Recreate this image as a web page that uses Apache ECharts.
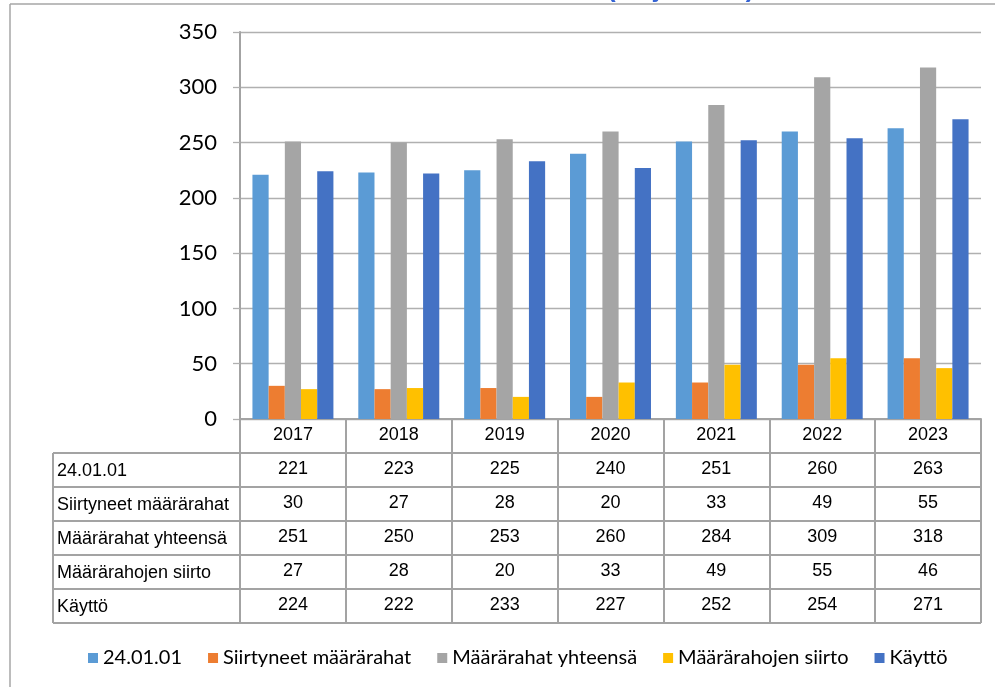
<!DOCTYPE html>
<html>
<head>
<meta charset="utf-8">
<script src="https://cdn.jsdelivr.net/npm/echarts/dist/echarts.min.js"></script>
<style>
  body{margin:0;background:#fff;}
  #chart{width:995px;height:687px;}
</style>
</head>
<body>
<div id="chart"></div>
<script>
const years = ["2017","2018","2019","2020","2021","2022","2023"]
const seriesNames = ["24.01.01","Siirtyneet määrärahat","Määrärahat yhteensä","Määrärahojen siirto","Käyttö"]
const colors = ["#5b9bd5","#ed7d31","#a5a5a5","#ffc000","#4472c4"]

const v240101 = [221,223,225,240,251,260,263]
const siirtyneet = [30,27,28,20,33,49,55]
const yhteensa = [251,250,253,260,284,309,318]
const siirto = [27,28,20,33,49,55,46]
const kaytto = [224,222,233,227,252,254,271]

const yTicks = [0,50,100,150,200,250,300,350]

const rows = [v240101,siirtyneet,yhteensa,siirto,kaytto]

// layout
const gridLeft = 240, gridRight = 981, gridTop = 32, axisY = 419
const rowH = 34, tableLeft = 53
const tableBottom = axisY + rowH*(rows.length+1)
const lineCol = "#a3a3a3"
const tableFont = {fontFamily:"Liberation Sans",fontSize:18,color:"#000"}

const chart = echarts.init(document.getElementById("chart"))

// taulukon rivit omina x-akseleina
const rowAxes = rows.map((vals,i)=>({
    type:"category",
    data:years,
    gridIndex:0,
    position:"bottom",
    offset:rowH*(i+1),
    axisLine:{show:false},
    axisTick:{show:false},
    axisLabel:{interval:0,margin:7,...tableFont,formatter:(v,idx)=>String(vals[idx])}
}))

const graphics = []
// vaakaviivat
for(let k=1;k<=rows.length+1;k++){
    const y = axisY + rowH*k
    graphics.push({type:"line",shape:{x1:tableLeft,y1:y,x2:gridRight,y2:y},style:{stroke:lineCol,lineWidth:2},silent:true})
}
graphics.push({type:"line",shape:{x1:tableLeft,y1:axisY+rowH,x2:tableLeft,y2:tableBottom},style:{stroke:lineCol,lineWidth:2},silent:true})
// rivien nimet
seriesNames.forEach((name,i)=>{
    graphics.push({type:"text",x:tableLeft+4,y:axisY+rowH*(i+1)+rowH/2+1,style:{text:name,font:"18px 'Liberation Sans'",fill:"#000",verticalAlign:"middle"},silent:true})
})
// kehys
graphics.push({type:"line",shape:{x1:10,y1:4,x2:995,y2:4},style:{stroke:"#a6a6a6",lineWidth:1.5},silent:true})
graphics.push({type:"line",shape:{x1:10,y1:4,x2:10,y2:687},style:{stroke:"#a6a6a6",lineWidth:1.5},silent:true})
// otsikko (leikkautunut, vain alareuna näkyy)
graphics.push({type:"text",x:607,y:3,style:{text:"(milj. euroa)",font:"bold 26px 'Liberation Sans'",fill:"#3563d4",verticalAlign:"bottom"},silent:true})

const option = {
    animation:false,
    color:colors,
    grid:{left:gridLeft,top:gridTop,width:gridRight-gridLeft,height:axisY-gridTop,containLabel:false,outerBoundsMode:"none"},
    legend:{
        left:83,
        top:643,
        itemWidth:10,
        itemHeight:10,
        itemGap:26,
        icon:"rect",
        textStyle:{fontFamily:"Lato",fontSize:20,color:"#000"},
        data:seriesNames
    },
    xAxis:[{
        type:"category",
        data:years,
        position:"bottom",
        axisLine:{lineStyle:{color:lineCol,width:2}},
        axisTick:{show:true,interval:0,length:tableBottom-axisY,lineStyle:{color:lineCol,width:2}},
        axisLabel:{interval:0,margin:7,...tableFont}
    },...rowAxes],
    yAxis:{
        type:"value",
        min:yTicks[0],
        max:yTicks[yTicks.length-1],
        interval:yTicks[1]-yTicks[0],
        axisLine:{show:true,lineStyle:{color:lineCol,width:2}},
        axisTick:{show:true,length:7,lineStyle:{color:"#b0b0b0",width:1.3}},
        splitLine:{lineStyle:{color:"#b0b0b0",width:1.3}},
        axisLabel:{margin:23,fontFamily:"Lato",fontSize:22,color:"#000"}
    },
    series:seriesNames.map((name,i)=>({
        name,
        type:"bar",
        data:rows[i],
        barGap:"0%",
        barCategoryGap:"23.5%"
    })),
    graphic:graphics
}

chart.setOption(option)
</script>
</body>
</html>
